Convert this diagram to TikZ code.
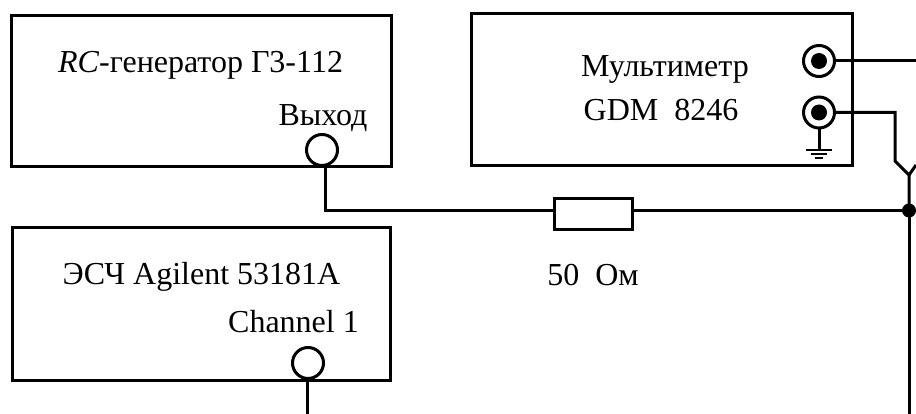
\documentclass[tikz,border=0pt]{standalone}
\usepackage{fontspec}
\setmainfont{Liberation Serif}
\tikzset{
	devbox/.style={draw, line width=3pt, inner sep=0pt},
	jack/.style={draw, circle, line width=3pt, fill=white, minimum size=31pt, inner sep=0pt},
	jackdot/.style={circle, fill=black, minimum size=16pt, inner sep=0pt},
	wire/.style={line width=3pt},
	thinbar/.style={line width=2.4pt},
	lbl/.style={inner sep=0pt, anchor=base, font=\fontsize{32}{36}\selectfont}
}

\begin{document}
\begin{tikzpicture}[x=1pt, y=-1pt]
		\useasboundingbox (0,0) rectangle (916,414);
		% devices
		\node[devbox, minimum width=380pt, minimum height=151pt] (gen) at (201,91) {};
		\node[devbox, minimum width=381pt, minimum height=152pt] (mult) at (661.5,90) {};
		\node[devbox, minimum width=378pt, minimum height=152pt] (esch) at (201,304) {};
		\node[devbox, fill=white, minimum width=78pt, minimum height=31pt] (res) at (593.5,214.5) {};
		% free ends of the wires
		\coordinate (node1) at (909,210.5);
		\coordinate (fork) at (909,175);
		\coordinate (forkl) at (895,161);
		\coordinate (forkr) at (916,165);
		\coordinate (bend) at (895,112.5);
		\coordinate (top) at (916,61);
		\coordinate (bot) at (909,414);
		\coordinate (down) at (307,414);
		\coordinate (corner) at (325,210.5);
		\coordinate (gnd) at (819,150);
		% wires
		\draw[wire] (325,150) -- (corner) -- (res.west |- corner);
		\draw[wire] (res.east |- node1) -- (node1);
		\draw[wire] (node1) -- (bot);
		\draw[wire] (node1) -- (fork) -- (forkl) -- (bend) -- (819,112.5);
		\draw[wire] (fork) -- (forkr);
		\draw[wire] (819,61) -- (top);
		\draw[wire] (307,363) -- (down);
		\draw[wire] (819,112.5) -- (gnd);
		\fill (node1) circle (7pt);
		% sockets
		\node[jack] (out) at (322,150) {};
		\node[jack] (ch1) at (308,363) {};
		\node[jack] (in1) at (819,61) {};
		\node[jack] (in2) at (819,112.5) {};
		\draw[wire] (in1.east) -- (top);
		\draw[wire] (in2.east) -- (bend);
		\node[jackdot] (dot1) at (in1) {};
		\node[jackdot] (dot2) at (in2) {};
		% ground
		\draw[thinbar] (806,150) -- (832,150);
		\draw[thinbar] (811,154) -- (827,154);
		\draw[thinbar] (815,158) -- (823,158);
		% labels
		\node[lbl] (gentxt) at (200.5,73) {\textit{RC}-генератор Г3-112};
		\node[lbl] (outtxt) at (323,126) {Выход};
		\node[lbl] (mult1) at (665,77) {Мультиметр};
		\node[lbl] (mult2) at (661,121) {GDM\ \ 8246};
		\node[lbl] (eschtxt) at (201.5,284) {ЭСЧ Agilent 53181A};
		\node[lbl] (chtxt) at (293.5,332) {Channel 1};
		\node[lbl] (restxt) at (593,286) {50\ \ Ом};
	\end{tikzpicture}
\end{document}
